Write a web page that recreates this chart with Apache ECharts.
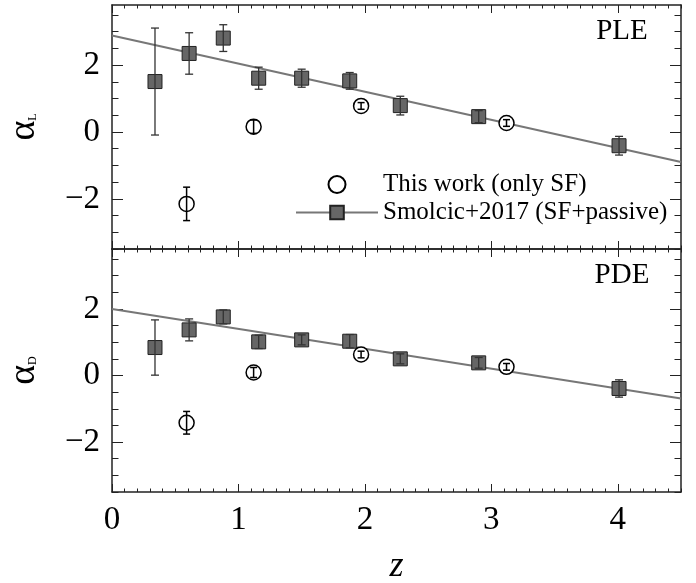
<!DOCTYPE html>
<html>
<head>
<meta charset="utf-8">
<script src="https://cdn.jsdelivr.net/npm/echarts@6/dist/echarts.min.js"></script>
<style>
html,body{margin:0;padding:0;background:#fff;}
#chart{width:696px;height:583px;}
</style>
</head>
<body>
<div id="chart"></div>
<script>
// ---- data ----
var smolZ      = [0.34, 0.61, 0.88, 1.16, 1.50, 1.88, 2.28, 2.90, 4.01];
var smolPLE    = [1.51, 2.35, 2.81, 1.61, 1.61, 1.53, 0.79, 0.46, -0.41];
var smolPLEErr = [1.60, 0.62, 0.40, 0.33, 0.27, 0.25, 0.28, 0.18, 0.28];
var smolPDE    = [0.84, 1.37, 1.76, 1.01, 1.07, 1.03, 0.50, 0.38, -0.39];
var smolPDEErr = [0.83, 0.33, 0.21, 0.20, 0.15, 0.20, 0.15, 0.16, 0.26];

var workZ      = [0.59, 1.12, 1.97, 3.12];
var workPLE    = [-2.15, 0.16, 0.78, 0.27];
var workPLEErr = [0.50, 0.20, 0.10, 0.10];
var workPDE    = [-1.42, 0.09, 0.63, 0.26];
var workPDEErr = [0.34, 0.15, 0.10, 0.10];

var fitZ   = [0, 4.5];
var fitPLE = [2.89, -0.90];
var fitPDE = [2.00, -0.69];

var xMajorTicks = [0, 1, 2, 3, 4];
var yMajorTicks = [-2, 0, 2];
var panelNames = ['PLE', 'PDE'];
var yNames = ['L', 'D'];

var NAME_WORK = 'This work (only SF)';
var NAME_SMOL = 'Smolcic+2017 (SF+passive)';
var FONT = "'Liberation Serif', 'DejaVu Serif', serif";

// minor tick positions
var xMinorTicks = [];
for (var i = 0; i <= 45; i++) { if (i % 10 !== 0) xMinorTicks.push(i / 10); }
var yMinorTicks = [];
for (var j = -7; j <= 7; j++) { if (j % 4 !== 0) yMinorTicks.push(j / 2); }

function zip(a, b, c) {
  return a.map(function (v, k) { return c ? [v, b[k], c[k]] : [v, b[k]]; });
}

var grids = [
  {left: 112, top: 5, width: 569, height: 244, outerBoundsMode: 'none', containLabel: false},
  {left: 112, top: 249, width: 569, height: 243, outerBoundsMode: 'none', containLabel: false}
];

var xAxes = [], yAxes = [], series = [];
var axisColor = '#222';

function xAx(g, pos, ticks, len, showLine, showLabel, extra) {
  var a = {
    type: 'value', gridIndex: g, position: pos, min: 0, max: 4.5,
    axisLine: {show: showLine, onZero: false, lineStyle: {color: axisColor, width: 1.5}},
    axisTick: {show: true, inside: true, length: len, customValues: ticks, lineStyle: {color: axisColor, width: 1}},
    axisLabel: {show: showLabel, customValues: xMajorTicks, fontSize: 33, fontFamily: FONT, color: '#000', margin: 12},
    splitLine: {show: false}
  };
  if (extra) for (var k in extra) a[k] = extra[k];
  return a;
}
function yAx(g, pos, ticks, len, showLine, showLabel, extra) {
  var a = {
    type: 'value', gridIndex: g, position: pos, min: -3.5, max: 3.8,
    axisLine: {show: showLine, onZero: false, lineStyle: {color: axisColor, width: 1.5}},
    axisTick: {show: true, inside: true, length: len, customValues: ticks, lineStyle: {color: axisColor, width: 1}},
    axisLabel: {show: showLabel, customValues: yMajorTicks, fontSize: 33, fontFamily: FONT, color: '#000', margin: 12,
      formatter: function (v) { return v < 0 ? '\u2212' + Math.abs(v) : String(v); }},
    splitLine: {show: false}
  };
  if (extra) for (var k in extra) a[k] = extra[k];
  return a;
}

function errBar(stroke, lw, cap) {
  return function (params, api) {
    var x = api.value(0), y = api.value(1), e = api.value(2);
    var t = api.coord([x, y + e]), b = api.coord([x, y - e]);
    var st = {stroke: stroke, lineWidth: lw};
    return {type: 'group', children: [
      {type: 'line', shape: {x1: t[0], y1: t[1], x2: b[0], y2: b[1]}, style: st},
      {type: 'line', shape: {x1: t[0] - cap, y1: t[1], x2: t[0] + cap, y2: t[1]}, style: st},
      {type: 'line', shape: {x1: b[0] - cap, y1: b[1], x2: b[0] + cap, y2: b[1]}, style: st}
    ]};
  };
}

var panelData = [
  {fit: fitPLE, sy: smolPLE, se: smolPLEErr, wy: workPLE, we: workPLEErr},
  {fit: fitPDE, sy: smolPDE, se: smolPDEErr, wy: workPDE, we: workPDEErr}
];

for (var g = 0; g < 2; g++) {
  var bottom = (g === 1);
  xAxes.push(xAx(g, 'bottom', xMajorTicks, 8, true, bottom, bottom ? {
    name: 'z', nameLocation: 'middle', nameGap: 57,
    nameTextStyle: {fontSize: 36, fontFamily: FONT, fontStyle: 'italic', color: '#000'}
  } : null));
  xAxes.push(xAx(g, 'bottom', xMinorTicks, 3.5, false, false));
  xAxes.push(xAx(g, 'top', xMajorTicks, 8, true, false));
  xAxes.push(xAx(g, 'top', xMinorTicks, 3.5, false, false));

  yAxes.push(yAx(g, 'left', yMajorTicks, 11, true, true, {
    name: '{a|\u03b1}{s|' + yNames[g] + '}', nameLocation: 'middle', nameGap: 69, nameRotate: 90,
    nameTextStyle: {color: '#000', rich: {
      a: {fontSize: 38, fontFamily: FONT, color: '#000'},
      s: {fontSize: 12, fontFamily: FONT, color: '#000', verticalAlign: 'bottom', padding: [0, 0, 4, 0]}
    }}
  }));
  yAxes.push(yAx(g, 'left', yMinorTicks, 6.5, false, false));
  yAxes.push(yAx(g, 'right', yMajorTicks, 11, true, false));
  yAxes.push(yAx(g, 'right', yMinorTicks, 6.5, false, false));

  var xi = g * 4, yi = g * 4;
  var d = panelData[g];
  series.push({
    name: NAME_SMOL, type: 'line', xAxisIndex: xi, yAxisIndex: yi,
    data: zip(fitZ, d.fit), showSymbol: false, symbol: 'rect', symbolSize: 14,
    lineStyle: {color: '#777', width: 2}, itemStyle: {color: '#666', borderColor: '#222', borderWidth: 1},
    silent: true, z: 1
  });
  series.push({
    name: NAME_SMOL, type: 'scatter', xAxisIndex: xi, yAxisIndex: yi,
    data: zip(smolZ, d.sy), symbol: 'rect', symbolSize: 14,
    itemStyle: {color: '#666', borderColor: '#222', borderWidth: 1, opacity: 1}, z: 2
  });
  series.push({
    name: 'smolErr' + g, type: 'custom', xAxisIndex: xi, yAxisIndex: yi,
    data: zip(smolZ, d.sy, d.se), renderItem: errBar('#333', 1.3, 4), z: 3, silent: true
  });
  series.push({
    name: NAME_WORK, type: 'scatter', xAxisIndex: xi, yAxisIndex: yi,
    data: zip(workZ, d.wy), symbol: 'circle', symbolSize: 15,
    itemStyle: {color: '#fff', borderColor: '#000', borderWidth: 1.5, opacity: 1}, z: 4
  });
  series.push({
    name: 'workErr' + g, type: 'custom', xAxisIndex: xi, yAxisIndex: yi,
    data: zip(workZ, d.wy, d.we), renderItem: errBar('#000', 1.5, 3.5), z: 5, silent: true
  });
}

var graphics = [
  {type: 'text', x: 622, y: 31, style: {text: panelNames[0], fontSize: 29, fontFamily: FONT, fill: '#000', align: 'center', verticalAlign: 'middle'}},
  {type: 'text', x: 622, y: 275, style: {text: panelNames[1], fontSize: 29, fontFamily: FONT, fill: '#000', align: 'center', verticalAlign: 'middle'}}
];

var chart = echarts.init(document.getElementById('chart'), null, {renderer: 'canvas'});
chart.setOption({
  animation: false,
  backgroundColor: '#fff',
  grid: grids,
  xAxis: xAxes,
  yAxis: yAxes,
  legend: {
    data: [NAME_WORK, NAME_SMOL], orient: 'vertical', left: 295, top: 172,
    itemWidth: 82, itemHeight: 17, itemGap: 3, padding: 0, selectedMode: false,
    textStyle: {fontSize: 25, fontFamily: FONT, color: '#000', lineHeight: 25}
  },
  graphic: graphics,
  series: series
});
</script>
</body>
</html>
